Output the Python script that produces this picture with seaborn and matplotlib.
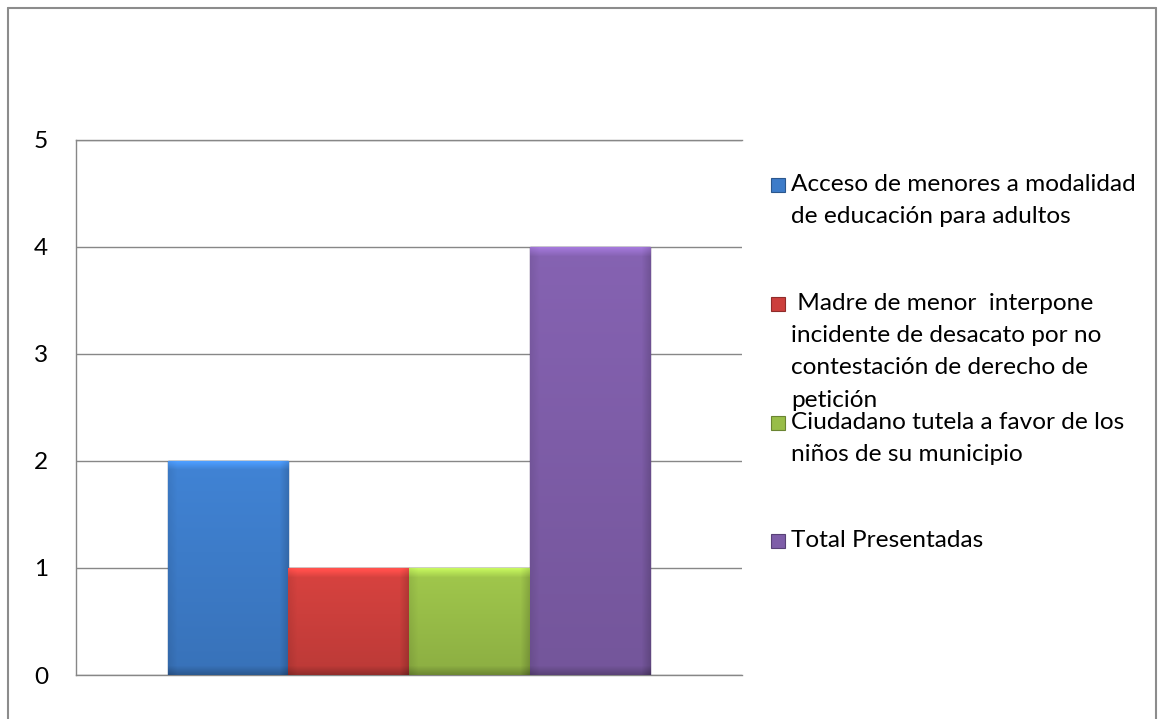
import numpy as np
import pandas as pd
import matplotlib
matplotlib.use("Agg")
import matplotlib.pyplot as plt
import seaborn as sns

# data
categorias = [
    "Acceso de menores a modalidad\nde educación para adultos",
    " Madre de menor  interpone\nincidente de desacato por no\ncontestación de derecho de\npetición",
    "Ciudadano tutela a favor de los\nniños de su municipio",
    "Total Presentadas",
]
valores = [2, 1, 1, 4]
colores = ["#3D7CC9", "#CC3F3C", "#98BD48", "#7E5DA8"]
y_ticks = [0, 1, 2, 3, 4, 5]

sns.set_theme(style="white")
plt.rcParams["font.family"] = ["Lato", "DejaVu Sans"]

W, H = 1160, 719
FS = 17.6
fig = plt.figure(figsize=(W / 100, H / 100), dpi=100)
ax = fig.add_axes([76 / W, 1 - 675 / H, (742 - 76) / W, (675 - 140) / H])

df = pd.DataFrame({"grupo": [""] * len(categorias), "tipo": categorias, "valor": valores})
sns.barplot(data=df, x="grupo", y="valor", hue="tipo", palette=colores,
            width=0.725, gap=0, legend=False, ax=ax, zorder=3)

# bevel-like shading on each bar
def shade(color, h, w, bevel=9):
    rgb = np.array(matplotlib.colors.to_rgb(color))
    yy = np.linspace(0, 1, h)[:, None]
    f = 1.06 - 0.14 * yy + np.zeros((h, w))
    ramp = 1 - np.arange(bevel) / bevel
    f[:bevel, :] += 0.25 * ramp[:, None]
    f[-bevel:, :] -= 0.2 * ramp[::-1][:, None]
    f[:, -bevel:] -= 0.16 * ramp[::-1][None, :]
    f[:, :bevel] -= 0.08 * ramp[None, :]
    img = np.clip(rgb[None, None, :] * f[:, :, None], 0, 1)
    return img

for p, c in zip(ax.patches, colores):
    x0, y0 = p.get_x(), p.get_y()
    w, h = p.get_width(), p.get_height()
    if h <= 0:
        continue
    p.set_edgecolor(np.array(matplotlib.colors.to_rgb(c)) * 0.65)
    p.set_linewidth(1.0)
    hp = max(int(h * 107), 2)
    img = shade(c, hp, 121)
    im = ax.imshow(img, extent=[x0, x0 + w, y0, y0 + h], aspect="auto",
                   zorder=3.5, interpolation="bilinear")
    im.set_clip_path(p)

ax.set_xlim(-0.5, 0.5)
ax.set_ylim(0, 5)
ax.set_yticks(y_ticks)
ax.set_xticks([])
ax.set_xlabel("")
ax.set_ylabel("")
ax.yaxis.grid(True, color="#878787", linewidth=1.0, zorder=0)
ax.set_axisbelow(True)
ax.tick_params(axis="y", length=0, pad=20, labelsize=FS, labelcolor="black")
for side in ["left", "bottom", "top"]:
    ax.spines[side].set_color("#878787")
    ax.spines[side].set_linewidth(1.0)
ax.spines["right"].set_visible(False)

# legend, entries evenly spaced on the right
leg_y = [185, 304, 423, 541]
for lab, c, yc in zip(categorias, colores, leg_y):
    fig.patches.append(plt.Rectangle((771 / W, 1 - (yc + 7) / H), 14 / W, 14 / H,
                                     transform=fig.transFigure, facecolor=c,
                                     edgecolor=np.array(matplotlib.colors.to_rgb(c)) * 0.7,
                                     linewidth=0.8))
    fig.text(791 / W, 1 - (yc - 11) / H, lab, fontsize=FS, ha="left", va="top",
             linespacing=1.66, color="black")

# outer frame
for xs, ys in [([8, 1156], [7.5, 7.5]), ([8, 8], [7.5, 719]), ([1156, 1156], [7.5, 719])]:
    fig.add_artist(plt.Line2D([x / W for x in xs], [1 - y / H for y in ys],
                              transform=fig.transFigure, color="#8c8c8c", linewidth=1.5))

fig.savefig("out.png", dpi=100)
